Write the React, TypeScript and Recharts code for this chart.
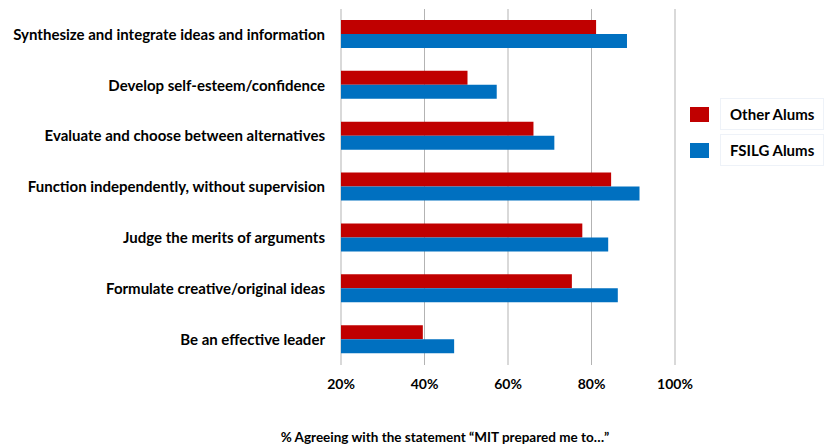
import React from 'react';
import { BarChart, Bar, XAxis, YAxis, CartesianGrid, Legend, Label } from 'recharts';

const categories = [
  'Synthesize and integrate ideas and information',
  'Develop self-esteem/confidence',
  'Evaluate and choose between alternatives',
  'Function independently, without supervision',
  'Judge the merits of arguments',
  'Formulate creative/original ideas',
  'Be an effective leader',
];
const otherAlums = [81.1, 50.3, 66.1, 84.7, 77.8, 75.3, 39.6];
const fsilgAlums = [88.5, 57.3, 71.1, 91.5, 84.0, 86.3, 47.1];
const seriesKeys = ['other', 'fsilg'];
const xTicks = [20, 40, 60, 80, 100];
const boundaryTicks = [0, 1, 2, 3, 4, 5, 6, 7];
const xTitle = '% Agreeing with the statement \u201CMIT prepared me to\u2026\u201D';

const data = categories.map((c, i) => ({ name: c, other: otherAlums[i], fsilg: fsilgAlums[i] }));

const FONT = 'Lato, "Open Sans", sans-serif';

const renderLegend = (props: any) => {
  const payload = [...(props.payload || [])].sort(
    (a: any, b: any) => seriesKeys.indexOf(a.dataKey) - seriesKeys.indexOf(b.dataKey)
  );
  return (
    <div style={{ fontFamily: FONT }}>
      {payload.map((p: any, i: number) => (
        <div key={i} style={{ display: 'flex', alignItems: 'center', height: 36 }}>
          <div style={{ width: 19, height: 15, background: p.color, marginRight: 11 }} />
          <div
            style={{
              border: '1px solid #eef2f8',
              padding: '6px 9px',
              fontWeight: 700,
              fontSize: 15,
              color: '#000',
              whiteSpace: 'nowrap',
            }}
          >
            {p.value}
          </div>
        </div>
      ))}
    </div>
  );
};

const XTitle = (props: any) => {
  const vb = props.viewBox || {};
  return (
    <text
      x={vb.x + vb.width / 2 - 63}
      y={442}
      textAnchor="middle"
      fontFamily={FONT}
      fontWeight={700}
      fontSize={13.5}
      fill="#000"
    >
      {xTitle}
    </text>
  );
};

export default function App() {
  return (
    <div style={{ position: 'absolute', left: 0, top: 0, width: 825, height: 446, background: '#fff' }}>
      <BarChart
        width={825}
        height={446}
        data={data}
        layout="vertical"
        margin={{ top: 9, right: 150, bottom: 1, left: 0 }}
        barCategoryGap={11}
        barGap={0}
      >
        <CartesianGrid horizontal={false} stroke="#b3b3b3" strokeWidth={1} />
        <XAxis
          type="number"
          domain={[20, 100]}
          ticks={xTicks}
          tickFormatter={(v: number) => `${v}%`}
          axisLine={false}
          tickLine={false}
          tickMargin={8}
          height={80}
          interval={0}
          tick={{ fontFamily: FONT, fontWeight: 700, fontSize: 14, fill: '#000' }}
        >
          <Label content={<XTitle />} />
        </XAxis>
        <YAxis
          yAxisId="bounds"
          type="number"
          domain={[0, 7]}
          ticks={boundaryTicks}
          interval={0}
          width={0}
          tick={false}
          tickSize={5}
          tickLine={{ stroke: '#999999' }}
          axisLine={{ stroke: '#999999' }}
          allowDataOverflow
        />
        <YAxis
          yAxisId="cat"
          type="category"
          dataKey="name"
          width={341}
          axisLine={false}
          tickLine={false}
          tickSize={6}
          tickMargin={10}
          interval={0}
          tick={{ fontFamily: FONT, fontWeight: 700, fontSize: 15, fill: '#000' }}
        />
        <Legend
          layout="vertical"
          align="center"
          verticalAlign="middle"
          content={renderLegend}
          wrapperStyle={{ left: 690, top: 96, width: 135 }}
        />
        <Bar yAxisId="cat" dataKey="other" name="Other Alums" fill="#c00000" isAnimationActive={false} />
        <Bar yAxisId="cat" dataKey="fsilg" name="FSILG Alums" fill="#0070c0" isAnimationActive={false} />
      </BarChart>
    </div>
  );
}
